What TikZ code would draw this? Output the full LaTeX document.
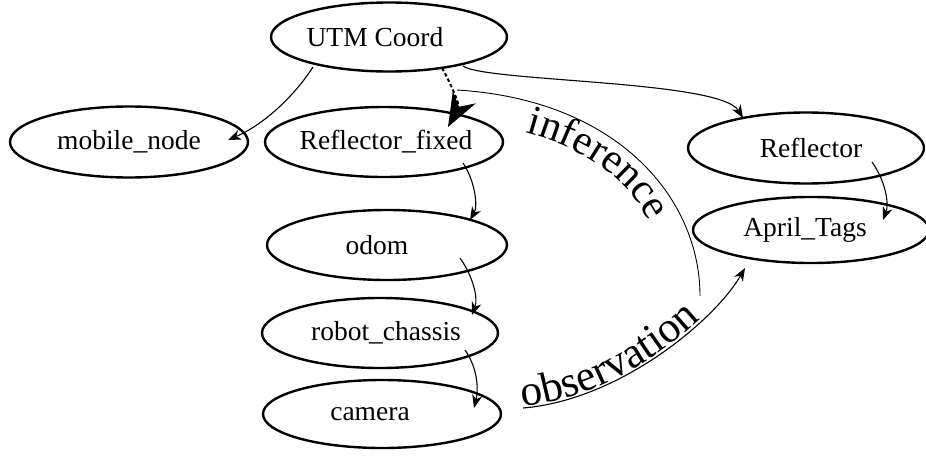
\documentclass[tikz,border=0pt]{standalone}
\usepackage{fontspec}
\setmainfont{Liberation Serif}
\usetikzlibrary{shapes.geometric,arrows.meta,calc,decorations.text}
\newcommand\arcfont{\fontsize{43.5}{44}\selectfont}
\newcommand\infont{\fontsize{42}{44}\selectfont}
\begin{document}
\begin{tikzpicture}[x=1pt,y=-1pt,
  ell/.style={ellipse, draw, line width=2.4pt, inner sep=0pt, minimum width=238pt, minimum height=70pt},
  nlab/.style={font=\fontsize{27.5}{30}\selectfont, inner sep=0pt},
  edge/.style={line width=1.1pt, -{Stealth[length=13pt,width=10pt,inset=4pt]}},
  thinarc/.style={line width=0.9pt},
]
\useasboundingbox (0,0) rectangle (926,455);

% nodes
\node[ell, minimum width=236pt, minimum height=69pt, label={[nlab,xshift=-14pt]center:UTM Coord}] (utm) at (389,37) {};
\node[ell, minimum height=71pt, label={[nlab]center:mobile\_node}] (mob) at (129,142) {};
\node[ell, label={[nlab,xshift=2pt]center:Reflector\_fixed}] (rf) at (384,142) {};
\node[ell, minimum width=240pt, label={[nlab,xshift=-10pt]center:odom}] (odom) at (387,245) {};
\node[ell, minimum width=236pt, label={[nlab,xshift=6pt]center:robot\_chassis}] (rc) at (380,333) {};
\node[ell, minimum height=68pt, label={[nlab,xshift=-12pt]center:camera}] (cam) at (382,414) {};
\node[ell, minimum width=236pt, minimum height=71pt, label={[nlab,xshift=5pt]center:Reflector}] (refl) at (806,148) {};
\node[ell, minimum width=236pt, minimum height=66pt, label={[nlab,xshift=-6pt]center:April\_Tags}] (at) at (811,230) {};

% free ends of the labelled arcs
\coordinate (obsS) at (523,408);
\coordinate (infS) at (700,296);
\coordinate (infE) at (457,90);
\coordinate (infT) at (457,121);
\coordinate (infU) at (667,296);

% edges
\draw[edge] ($(utm.center)+(-76,30)$) .. controls +(-18,28) and +(37,-16) .. ($(mob.center)+(99,-2)$);
\draw[line width=2pt, dash pattern=on 3.5pt off 2.5pt, -{Stealth[length=34pt,width=26pt,inset=11pt]}]
  ($(utm.center)+(53,31)$) .. controls +(8,14) and +(12,-22) .. ($(rf.center)+(64,-15)$);
\draw[edge] ($(utm.center)+(74,29)$) .. controls +(22,16) and +(-23,-38) .. ($(refl.center)+(-63,-30)$);
\draw[edge] ($(rf.center)+(79,21)$) .. controls +(12,18) and +(8,-14) .. ($(odom.center)+(83,-25)$);
\draw[edge] ($(odom.center)+(73,13)$) .. controls +(14,20) and +(6,-16) .. ($(rc.center)+(92,-18)$);
\draw[edge] ($(rc.center)+(85,17)$) .. controls +(14,20) and +(4,-16) .. ($(cam.center)+(92,-6)$);
\draw[edge] ($(refl.center)+(66,14)$) .. controls +(14,20) and +(6,-16) .. ($(at.center)+(72,-10)$);

% observation
\draw[edge] (obsS) .. controls +(97,-8) and +(-30,52) .. ($(at.center)+(-66,38)$);
\path[decorate, decoration={text along path, text={|\arcfont|observation}, text align=left, raise=1.5pt}]
  (obsS) .. controls +(97,-8) and +(-30,52) .. ($(at.center)+(-66,38)$);

% inference
\draw[thinarc] (infS) .. controls +(0,-96) and +(163,10) .. (infE);
\path[decorate, decoration={text along path, text={|\infont|inference}, text align={left indent=70pt}}]
  (infT) .. controls +(148,13) and +(-2,-91) .. (infU);
\end{tikzpicture}
\end{document}
